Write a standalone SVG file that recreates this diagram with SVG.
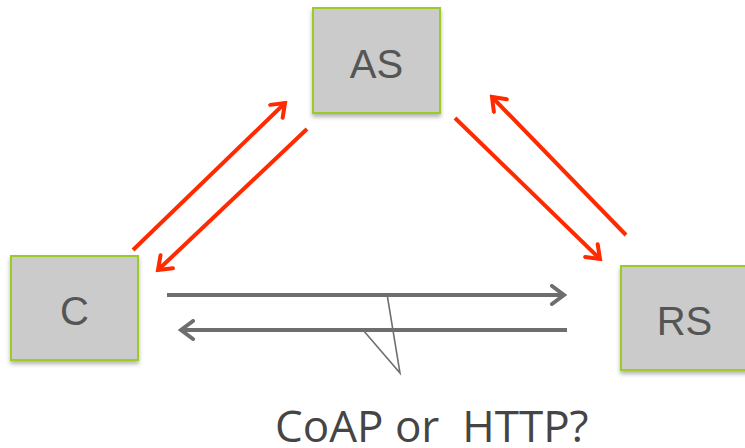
<svg xmlns="http://www.w3.org/2000/svg" width="745" height="448" viewBox="0 0 745 448">
  <style>
    .box { fill: #cbcbcb; stroke: #9ccb25; stroke-width: 2; filter: url(#shadow); }
    .label { font-family: "Liberation Sans", Arial, sans-serif; font-size: 40px; fill: #555555; text-anchor: middle; }
    .red { stroke: #ff2a00; stroke-width: 4; fill: none; }
    .gray { stroke: #6e6e6e; stroke-width: 4; fill: none; }
    .callout { stroke: #707070; stroke-width: 1.6; fill: none; }
    .caption { font-family: "Open Sans", "Liberation Sans", sans-serif; font-size: 44px; fill: #454545; white-space: pre; }
  </style>
  <defs>
    <filter id="shadow" x="-10%" y="-10%" width="130%" height="130%">
      <feDropShadow dx="0" dy="3" stdDeviation="2" flood-color="#000" flood-opacity="0.3"/>
    </filter>
    <marker id="redHead" viewBox="-16 -11 19 22" markerWidth="19" markerHeight="22" refX="0" refY="0" orient="auto" markerUnits="userSpaceOnUse">
      <path d="M-12,-9 L0,0 L-12,9" stroke="#ff2a00" stroke-width="4" fill="none" stroke-linecap="round" stroke-linejoin="miter"/>
    </marker>
    <marker id="grayHead" viewBox="-16 -11 19 22" markerWidth="19" markerHeight="22" refX="0" refY="0" orient="auto" markerUnits="userSpaceOnUse">
      <path d="M-12,-9 L0,0 L-12,9" stroke="#6e6e6e" stroke-width="4" fill="none" stroke-linecap="round" stroke-linejoin="miter"/>
    </marker>
  </defs>

  <g id="connectors">
    <!-- C <-> AS -->
    <line class="red" x1="133" y1="250" x2="285" y2="103" marker-end="url(#redHead)"/>
    <line class="red" x1="307" y1="129" x2="158" y2="270" marker-end="url(#redHead)"/>
    <!-- AS <-> RS -->
    <line class="red" x1="455" y1="118" x2="600" y2="259" marker-end="url(#redHead)"/>
    <line class="red" x1="626" y1="235" x2="492" y2="97" marker-end="url(#redHead)"/>
    <!-- C <-> RS -->
    <line class="gray" x1="167" y1="295" x2="564" y2="295" marker-end="url(#grayHead)"/>
    <line class="gray" x1="567" y1="330" x2="181" y2="330" marker-end="url(#grayHead)"/>
    <!-- callout pointer -->
    <polyline class="callout" points="387,294 400,373 363,330"/>
  </g>

  <g id="node-as">
    <rect class="box" x="313" y="8" width="127" height="105"/>
    <text class="label" x="376.5" y="78">AS</text>
  </g>

  <g id="node-c">
    <rect class="box" x="11" y="256" width="127" height="104"/>
    <text class="label" x="74.5" y="325">C</text>
  </g>

  <g id="node-rs">
    <rect class="box" x="621" y="266" width="127" height="104"/>
    <text class="label" x="684.5" y="335">RS</text>
  </g>

  <g id="caption">
    <text class="caption" x="275" y="442">CoAP or  HTTP?</text>
  </g>
</svg>
